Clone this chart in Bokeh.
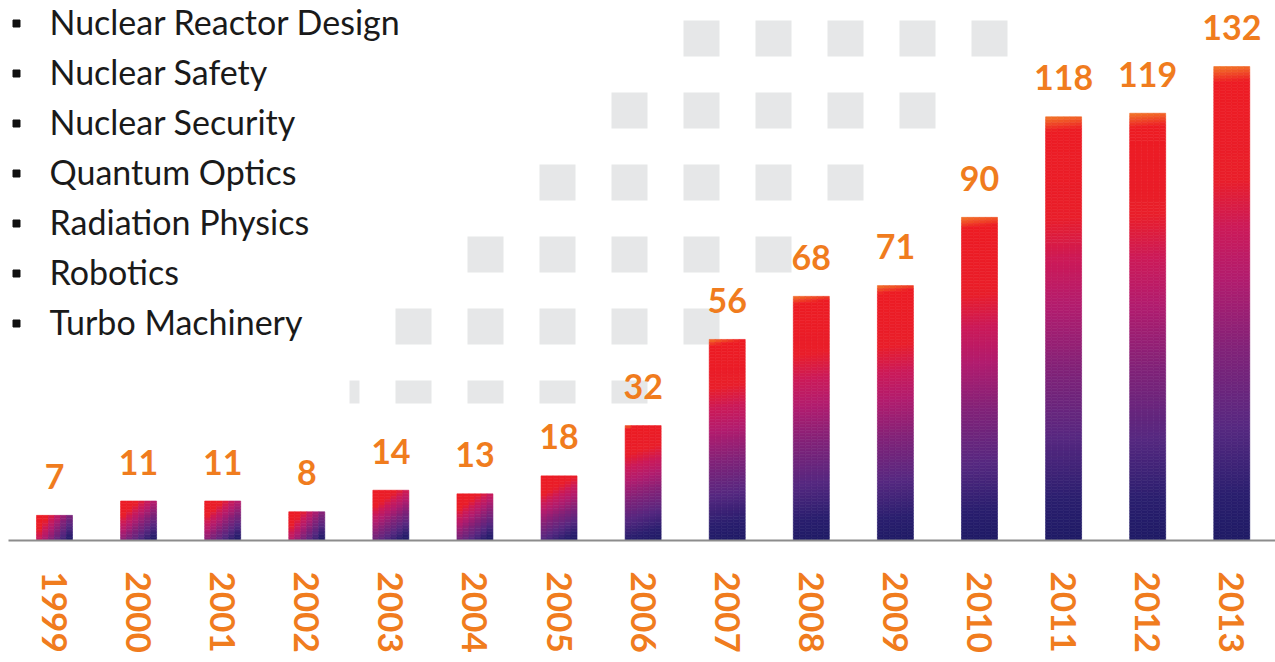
import math
from bokeh.plotting import figure
from bokeh.models import Range1d, FixedTicker, ColumnDataSource
from bokeh.core.properties import value
from bokeh.embed import file_html
from bokeh.resources import INLINE

# ---------------- data ----------------
years = ["1999", "2000", "2001", "2002", "2003", "2004", "2005", "2006",
         "2007", "2008", "2009", "2010", "2011", "2012", "2013"]
counts = [7, 11, 11, 8, 14, 13, 18, 32, 56, 68, 71, 90, 118, 119, 132]
topics = ["Nuclear Reactor Design", "Nuclear Safety", "Nuclear Security",
          "Quantum Optics", "Radiation Physics", "Robotics", "Turbo Machinery"]

# ---------------- layout / style ----------------
W, H = 1275, 662
LEFT_PAD = 8
AXIS_H = 122
FRAME_W = W - LEFT_PAD
FRAME_H = H - AXIS_H
X0, X1 = -0.547, 14.52
Y1 = 150.4
PPX = FRAME_W / (X1 - X0)     # pixels per x unit
PPY = FRAME_H / Y1            # pixels per y unit
BAR_W = 36 / PPX
ORANGE = "#f07c1e"


def sx(px):
    return (px - LEFT_PAD) / PPX + X0


def sy(py):
    return (FRAME_H - py) / PPY


stops = [(0.0, (242, 122, 40)), (0.035, (237, 28, 36)), (0.24, (233, 30, 42)),
         (0.34, (204, 26, 88)), (0.45, (178, 28, 110)), (0.6, (128, 34, 120)),
         (0.76, (86, 40, 128)), (0.9, (42, 30, 110)), (1.0, (30, 26, 100))]


def grad(t):
    t = min(max(t, 0.0), 1.0)
    for (t0, c0), (t1, c1) in zip(stops[:-1], stops[1:]):
        if t <= t1:
            f = (t - t0) / (t1 - t0) if t1 > t0 else 0
            return "#%02x%02x%02x" % tuple(int(round(a + (b - a) * f)) for a, b in zip(c0, c1))
    return "#%02x%02x%02x" % stops[-1][1]


p = figure(width=W, height=H, output_backend="svg", toolbar_location=None,
           x_range=Range1d(X0, X1), y_range=Range1d(0, Y1),
           min_border_left=LEFT_PAD, min_border_right=0, min_border_top=0,
           min_border_bottom=AXIS_H, y_axis_location=None,
           background_fill_color="white", border_fill_color="white",
           outline_line_color=None)
p.grid.visible = False

# ---------------- decorative background squares ----------------
sq = dict(left=[], right=[], top=[], bottom=[])
for r in range(6):
    top_px = 20 + 72 * r
    h_px = 36 if r < 5 else 23
    for c in range(5):
        l_px = 683 - 72 * r + 72 * c
        sq["left"].append(sx(max(l_px, 349))); sq["right"].append(sx(l_px + 36))
        sq["top"].append(sy(top_px)); sq["bottom"].append(sy(top_px + h_px))
p.quad(source=ColumnDataSource(sq), left="left", right="right", top="top",
       bottom="bottom", fill_color="#e6e7e8", line_color=None)

# ---------------- gradient bars ----------------
cells = dict(left=[], right=[], top=[], bottom=[], color=[])
for i, v in enumerate(counts):
    wpx = BAR_W * PPX
    hpx = v * PPY
    nx = 6
    ny = max(6, int(math.ceil(hpx / 3)))
    for cx in range(nx):
        for cy in range(ny):
            xc = (cx + 0.5) / nx * wpx
            yc = (cy + 0.5) / ny * hpx      # from top
            t = (xc * wpx + yc * hpx) / (wpx ** 2 + hpx ** 2)
            col = grad(t)
            cells["left"].append(i - BAR_W / 2 + cx * BAR_W / nx)
            cells["right"].append(i - BAR_W / 2 + (cx + 1) * BAR_W / nx)
            cells["top"].append(v - cy * v / ny)
            cells["bottom"].append(v - (cy + 1) * v / ny)
            cells["color"].append(col)
p.quad(source=ColumnDataSource(cells), left="left", right="right", top="top",
       bottom="bottom", fill_color="color", line_color="color", line_width=0.6)

# ---------------- value labels ----------------
p.text(x=list(range(len(counts))), y=[v + 39 / PPY for v in counts],
       text=[str(v) for v in counts], text_font=value("Lato"),
       text_font_style="bold", text_font_size="34px", text_color=ORANGE,
       text_align="center", text_baseline="alphabetic")

# ---------------- topic list ----------------
p.scatter(x=[sx(16)] * len(topics), y=[sy(23 + 50 * k) for k in range(len(topics))],
          marker="square", size=7, color="#111111")
p.text(x=[sx(49)] * len(topics), y=[sy(21 + 50 * k) for k in range(len(topics))],
       text=topics, text_font=value("Lato"), text_font_size="34px",
       text_color="#1a1a1a", text_align="left", text_baseline="alphabetic")

# ---------------- axis ----------------
ax = p.xaxis[0]
ax.ticker = FixedTicker(ticks=list(range(len(years))))
ax.major_label_overrides = {i: y for i, y in enumerate(years)}
ax.major_label_orientation = -math.pi / 2
ax.major_label_text_font = "Lato"
ax.major_label_text_font_style = "bold"
ax.major_label_text_font_size = "35px"
ax.major_label_text_color = ORANGE
ax.major_label_standoff = 25
ax.axis_line_color = "#8c8c8c"
ax.axis_line_width = 2
ax.major_tick_line_color = None
ax.minor_tick_line_color = None

open("out.html", "w").write(file_html(p, INLINE))
